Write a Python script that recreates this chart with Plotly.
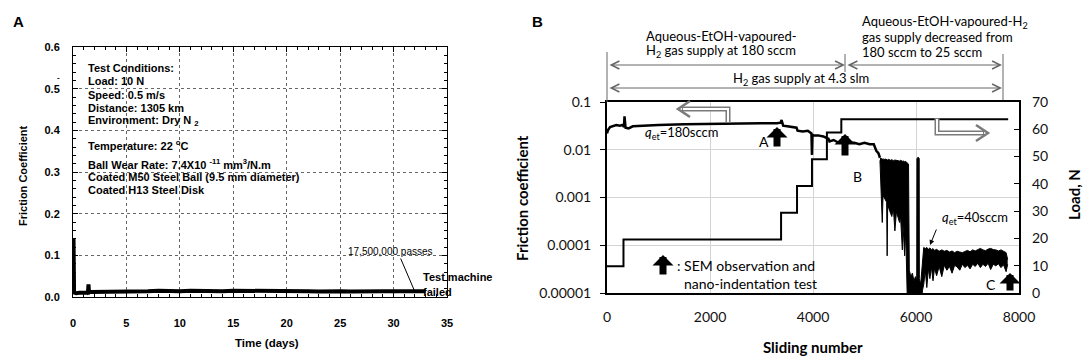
import plotly.graph_objects as go

W, H = 1084, 361
def px(x): return x / W
def py(y): return 1 - y / H

# ---------------- Panel A data ----------------
a_days = [0, 0.05, 0.1, 0.3, 0.6, 1.0, 1.4, 1.45, 1.5, 1.6, 2.0, 2.5, 3, 4, 5, 6, 7, 8, 9, 10,
          11, 12, 13, 14, 15, 16, 17, 18, 19, 20, 21, 22, 23, 24, 25, 26, 27, 28, 29, 30, 31, 32, 33]
a_mu = [0.012, 0.14, 0.011, 0.009, 0.010, 0.009, 0.010, 0.030, 0.011, 0.012, 0.012, 0.013, 0.013,
        0.013, 0.013, 0.014, 0.014, 0.015, 0.014, 0.014, 0.015, 0.014, 0.015, 0.014, 0.015, 0.015,
        0.014, 0.016, 0.015, 0.015, 0.014, 0.014, 0.013, 0.014, 0.014, 0.013, 0.014, 0.014, 0.014,
        0.014, 0.014, 0.015, 0.014]

a_xticks = [0, 5, 10, 15, 20, 25, 30, 35]
a_yticks = [0, 0.1, 0.2, 0.3, 0.4, 0.5, 0.6]

# ---------------- Panel B data ----------------
b_slide = [0, 20, 60, 120, 180, 250, 300, 330, 340, 360, 420, 500, 700, 1000, 1500, 2000, 2500,
           3000, 3300, 3370, 3390, 3420, 3500, 3600, 3680, 3700, 3800, 3900, 3970, 3980, 3990,
           4000, 4100, 4200, 4300, 4320, 4400, 4500, 4600, 4610, 4700, 4800, 4900, 5000, 5100,
           5180, 5230, 5270, 5300]
b_mu = [0.022, 0.026, 0.030, 0.031, 0.033, 0.032, 0.033, 0.030, 0.050, 0.029, 0.028, 0.031, 0.032,
        0.033, 0.034, 0.035, 0.036, 0.036, 0.036, 0.037, 0.042, 0.032, 0.031, 0.030, 0.029, 0.025,
        0.024, 0.025, 0.022, 0.0078, 0.021, 0.020, 0.020, 0.019, 0.017, 0.015, 0.016, 0.014, 0.015,
        0.018, 0.014, 0.014, 0.013, 0.014, 0.013, 0.013, 0.0095, 0.0085, 0.0068]

# dense oscillating part, drawn as upper / lower envelopes (three stretches)
env1_slide = [5300, 5315, 5330, 5345, 5360, 5380, 5400, 5430, 5440, 5450, 5470, 5500, 5530, 5560,
              5590, 5620, 5650, 5680, 5700, 5720, 5735, 5745, 5760, 5780, 5800, 5815, 5830, 5845, 5855]
env1_hi = [0.0068, 0.0064, 0.0066, 0.0063, 0.0065, 0.0062, 0.0064, 0.0062, 0.0063, 0.0061,
           0.0063, 0.0060, 0.0062, 0.0059, 0.0061, 0.0060, 0.0061, 0.0058, 0.0060, 0.0058,
           0.0059, 0.0057, 0.0058, 0.0056, 0.0057, 0.0055, 0.0054, 0.0052, 0.0050]
env1_lo = [0.0060, 0.0014, 0.0012, 0.0003, 0.0011, 0.0010, 0.0009, 0.0008, 0.00006, 0.0007,
           0.0006, 0.0005, 0.0004, 0.0006, 0.0002, 0.0005, 0.0004, 0.0003, 0.0004, 0.0002,
           0.00008, 0.0003, 0.00015, 0.00006, 0.0002, 0.00003, 8e-6, 8e-6, 8e-6]

env2_slide = [5870, 5900, 5930, 5960, 5990, 6015, 6018, 6040, 6062, 6065, 6090, 6110, 6130]
env2_hi = [3e-5, 2.2e-5, 2.6e-5, 1.8e-5, 2.2e-5, 2e-5, 0.0065, 0.0070, 0.0066, 2e-5, 1.5e-5, 3e-5, 7e-5]
env2_lo = [8e-6, 8e-6, 8e-6, 8e-6, 8e-6, 8e-6, 8e-6, 8e-6, 8e-6, 8e-6, 8e-6, 8e-6, 1.2e-5]

env3_slide = [6150, 6180, 6210, 6240, 6270, 6300, 6330, 6360, 6400, 6450, 6500, 6550, 6600, 6650,
              6700, 6750, 6800, 6850, 6900, 6950, 7000, 7050, 7100, 7150, 7200, 7250, 7300, 7350,
              7400, 7450, 7500, 7550, 7600, 7650, 7700, 7750, 7780]
env3_hi = [9e-5, 8.5e-5, 9e-5, 8.2e-5, 8.8e-5, 8e-5, 8.5e-5, 7.8e-5, 8.2e-5, 7.5e-5, 8e-5, 7.5e-5,
           7.8e-5, 7.2e-5, 7.6e-5, 7e-5, 7.5e-5, 7.2e-5, 7e-5, 7.4e-5, 7.8e-5, 7.3e-5, 8e-5, 7.6e-5,
           8.2e-5, 8.6e-5, 8e-5, 7.7e-5, 8.3e-5, 8.6e-5, 8.1e-5, 8e-5, 7.6e-5, 8e-5, 7.5e-5, 7e-5, 5e-5]
env3_lo = [1.5e-5, 3e-5, 1.3e-5, 3.2e-5, 2e-5, 3.5e-5, 1.8e-5, 3.3e-5, 2.3e-5, 3.6e-5, 2.2e-5,
           3.8e-5, 3e-5, 3.6e-5, 2.6e-5, 3.8e-5, 3.5e-5, 3e-5, 4e-5, 3.4e-5, 3.8e-5, 3.2e-5, 4e-5,
           3.6e-5, 4.2e-5, 3.4e-5, 4e-5, 3.6e-5, 4.2e-5, 3.1e-5, 4e-5, 3.7e-5, 4.1e-5, 3.4e-5,
           3.9e-5, 2.8e-5, 4e-5]

load_slide = [0, 320, 3380, 3690, 3980, 4270, 4550, 7790]
load_val = [9.8, 19.6, 29.4, 39.2, 49.0, 58.8, 63.7, 63.7]

b_yticks = [0.00001, 0.0001, 0.001, 0.01, 0.1]
b_yticklabels = ["0.00001", "0.0001", "0.001", "0.01", "0.1"]
b_xticks = [0, 2000, 4000, 6000, 8000]
load_ticks = [0, 10, 20, 30, 40, 50, 60, 70]

env_slide = env1_slide + env2_slide + env3_slide
env_hi = env1_hi + env2_hi + env3_hi
env_lo = env1_lo + env2_lo + env3_lo

# ---------------- Figure ----------------
fig = go.Figure()

fig.add_trace(go.Scatter(x=a_days, y=a_mu, mode="lines", xaxis="x", yaxis="y",
                         line=dict(color="black", width=4), showlegend=False))

fig.add_trace(go.Scatter(x=b_slide, y=b_mu, mode="lines", xaxis="x2", yaxis="y2",
                         line=dict(color="black", width=2.5), showlegend=False))
fig.add_trace(go.Scatter(x=env_slide, y=env_lo, mode="lines", xaxis="x2", yaxis="y2",
                         line=dict(color="black", width=1), showlegend=False))
fig.add_trace(go.Scatter(x=env_slide, y=env_hi, mode="lines", xaxis="x2", yaxis="y2",
                         fill="tonexty", fillcolor="black",
                         line=dict(color="black", width=1), showlegend=False))
fig.add_trace(go.Scatter(x=load_slide, y=load_val, mode="lines", xaxis="x2", yaxis="y3",
                         line=dict(color="black", width=2, shape="hv"), showlegend=False))

A_FONT = "Liberation Sans, Arial, sans-serif"
B_FONT = "Lato, Calibri, sans-serif"

fig.update_layout(
    width=W, height=H, margin=dict(l=0, r=0, t=0, b=0, autoexpand=False),
    paper_bgcolor="white", plot_bgcolor="white", showlegend=False,
    xaxis=dict(domain=[px(73), px(447)], range=[0, 35], tickvals=a_xticks, anchor="y",
               automargin=False,
               showline=True, linecolor="black", linewidth=1, mirror="ticks",
               ticks="inside", ticklen=5, tickcolor="black",
               minor=dict(dtick=1, ticks="inside", ticklen=3, tickcolor="black"),
               showgrid=True, gridcolor="#666", griddash="dot", gridwidth=1, zeroline=False,
               tickfont=dict(family=A_FONT, size=11, color="black", weight="bold"),
               ticklabelstandoff=16),
    yaxis=dict(domain=[py(297), py(47)], range=[0, 0.6], tickvals=a_yticks, anchor="x",
               automargin=False, tickformat=".1f",
               showline=True, linecolor="black", linewidth=1, mirror="ticks",
               ticks="inside", ticklen=5, tickcolor="black",
               minor=dict(dtick=0.02, ticks="inside", ticklen=3, tickcolor="black"),
               showgrid=True, gridcolor="#666", griddash="dot", gridwidth=1, zeroline=False,
               tickfont=dict(family=A_FONT, size=11, color="black", weight="bold"),
               ticklabelstandoff=10),
    xaxis2=dict(domain=[px(607), px(1019)], range=[0, 8000], tickvals=b_xticks, anchor="y2",
                automargin=False,
                showline=True, linecolor="black", linewidth=2, mirror=True,
                ticks="", showgrid=True, gridcolor="#d4d4d4", gridwidth=1, zeroline=False,
                tickfont=dict(family=B_FONT, size=14, color="#111"),
                ticklabelstandoff=10),
    yaxis2=dict(domain=[py(293), py(102)], type="log", range=[-5, -1], anchor="x2",
                automargin=False, tickvals=b_yticks, ticktext=b_yticklabels,
                showline=True, linecolor="black", linewidth=2, mirror=True,
                ticks="outside", ticklen=5, tickcolor="black",
                showgrid=True, gridcolor="#d4d4d4", gridwidth=1, zeroline=False,
                tickfont=dict(family=B_FONT, size=14, color="#111"),
                ticklabelstandoff=6),
    yaxis3=dict(overlaying="y2", side="right", range=[0, 70], tickvals=load_ticks, anchor="x2",
                automargin=False,
                showline=False, ticks="inside", ticklen=5, tickcolor="black",
                showgrid=False, zeroline=False,
                tickfont=dict(family=B_FONT, size=14, color="#111"),
                ticklabelstandoff=12),
)

ann = []
def text(x, y, t, size, family, bold=False, xanchor="left", angle=0, color="black"):
    ann.append(dict(x=px(x), y=py(y), xref="paper", yref="paper", text=t, showarrow=False,
                    xanchor=xanchor, yanchor="middle", textangle=angle,
                    font=dict(family=family, size=size, color=color,
                              weight="bold" if bold else "normal")))

def arrow(x, y, ax, ay, width=1, head=2, size=1, color="black", side="end"):
    ann.append(dict(x=px(x), y=py(y), xref="paper", yref="paper", text="", showarrow=True,
                    ax=ax - x, ay=ay - y, axref="pixel", ayref="pixel",
                    arrowhead=head, startarrowhead=head, arrowsize=size, startarrowsize=size,
                    arrowwidth=width, arrowcolor=color, arrowside=side, standoff=0, startstandoff=0))

# Panel A labels
text(18, 22, "A", 15, A_FONT, bold=True, xanchor="center")
text(23, 176, "Friction Coefficient", 11, A_FONT, bold=True, xanchor="center", angle=-90)
text(267, 343, "Time (days)", 11.5, A_FONT, bold=True, xanchor="center")
text(58, 78, "-", 8, A_FONT, bold=True, xanchor="center")
cond_lines = [
    (68, "Test Conditions:"), (81, "Load: 10 N"), (95, "Speed: 0.5 m/s"),
    (108, "Distance: 1305 km"), (121, "Environment: Dry N <sub>2</sub>"),
    (145, "Temperature: 22 <sup>o</sup>C"),
    (164, "Ball Wear Rate: 7.4X10 <sup>-11</sup> mm<sup>3</sup>/N.m"),
    (177, "Coated M50 Steel Ball (9.5 mm diameter)"), (190, "Coated H13 Steel Disk"),
]
for yy, t in cond_lines:
    text(86, yy, t, 11, A_FONT, bold=True)
text(346, 251, "17,500,000 passes", 10, A_FONT)
arrow(415, 292, 400, 257, width=1, head=0)
text(421, 277, "Test machine", 11, A_FONT, bold=True)
text(421, 292, "failed", 11, A_FONT, bold=True)

# Panel B labels
text(537, 22, "B", 15, A_FONT, bold=True, xanchor="center")
text(522, 198, "Friction coefficient", 15, B_FONT, bold=True, xanchor="center", angle=-90)
text(813, 347, "Sliding number", 15, B_FONT, bold=True, xanchor="center")
text(1074, 195, "Load, N", 15, B_FONT, bold=True, xanchor="center", angle=-90)

text(721, 36, "Aqueous-EtOH-vapoured-", 13, B_FONT, xanchor="center")
text(721, 51, "H<sub>2</sub> gas supply at 180 sccm", 13, B_FONT, xanchor="center")
text(860, 22, "Aqueous-EtOH-vapoured-H<sub>2</sub>", 13, B_FONT)
text(860, 37, "gas supply decreased from", 13, B_FONT)
text(860, 52, "180 sccm to 25 sccm", 13, B_FONT)
text(801, 79, "H<sub>2</sub> gas supply at 4.3 slm", 13, B_FONT, xanchor="center")

GRAY = "#666"
ARROW_GRAY = "#7a7a7a"
shapes = []
def pline(x0, y0, x1, y1, color, width):
    shapes.append(dict(type="line", xref="paper", yref="paper", x0=px(x0), x1=px(x1),
                       y0=py(y0), y1=py(y1), line=dict(color=color, width=width)))
def ppath(points, color, width):
    d = "M " + " L ".join(f"{px(x):.5f},{py(y):.5f}" for x, y in points)
    shapes.append(dict(type="path", xref="paper", yref="paper", path=d,
                       line=dict(color=color, width=width)))

# bracket vertical lines
for (x0, y0, y1) in [(607, 52, 102), (845, 54, 72), (1003, 54, 100)]:
    pline(x0, y0, x0, y1, GRAY, 1)
# bracket double arrows
arrow(845, 65, 608, 65, width=1, head=5, size=1.6, color=GRAY, side="end+start")
arrow(1002, 65, 846, 65, width=1, head=5, size=1.6, color=GRAY, side="end+start")
arrow(1002, 88, 608, 88, width=1, head=5, size=1.6, color=GRAY, side="end+start")

# hollow gray direction arrows (friction -> left axis, load -> right axis)
ppath([(728, 123), (728, 109), (682, 109)], ARROW_GRAY, 5)
ppath([(728, 122), (728, 109), (683, 109)], "white", 2)
ppath([(690, 101), (678, 109), (690, 117)], ARROW_GRAY, 2.5)
ppath([(937, 118), (937, 133), (984, 133)], ARROW_GRAY, 5)
ppath([(937, 119), (937, 133), (983, 133)], "white", 2)
ppath([(976, 125), (988, 133), (976, 141)], ARROW_GRAY, 2.5)
fig.update_layout(shapes=shapes)

# q_et labels
text(643, 133, "<i>q</i><sub>et</sub>=180sccm", 13, B_FONT)
text(940, 218, "<i>q</i><sub>et</sub>=40sccm", 13, B_FONT)
arrow(930, 245, 937, 228, width=1, head=2, size=1)

# block arrows
BW, BS = 7, 0.5
text(757, 141, "A", 14, B_FONT)
arrow(777, 127, 777, 148, width=BW, head=1, size=BS)
arrow(845, 134, 845, 157, width=BW, head=1, size=BS)
text(851, 176, "B", 14, B_FONT)
text(984, 284, "C", 14, B_FONT)
arrow(1010, 273, 1010, 292, width=BW, head=1, size=BS)

# legend
arrow(663, 255, 663, 276, width=BW, head=1, size=BS)
text(675, 265, ": SEM observation and", 14, B_FONT)
text(682, 283, "nano-indentation test", 14, B_FONT)

fig.update_layout(annotations=ann)
fig.write_html("out.html", config={"displayModeBar": False},
               post_script="document.body.style.margin='0px';document.body.style.overflow='hidden';")
